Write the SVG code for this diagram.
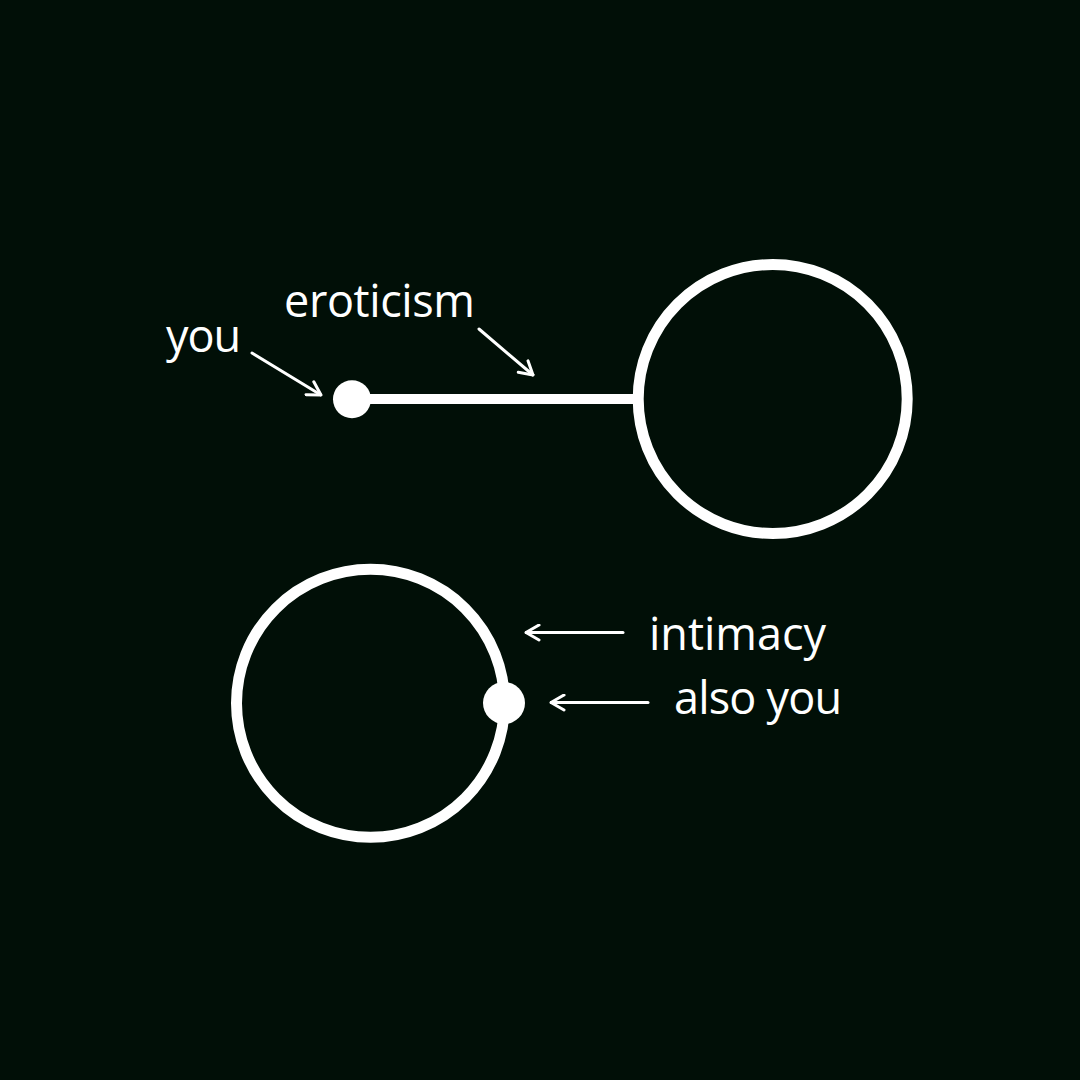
<svg xmlns="http://www.w3.org/2000/svg" width="1080" height="1080" viewBox="0 0 1080 1080">
  <defs>
    <style>
      .ring { fill: none; stroke: #ffffff; stroke-width: 11; }
      .dot { fill: #ffffff; }
      .bar { stroke: #ffffff; stroke-width: 10; }
      .arrow { stroke: #ffffff; stroke-width: 3; fill: none; stroke-linecap: round; }
      .label { font-family: "Open Sans", "Noto Sans", sans-serif; font-size: 45px; fill: #ffffff; }
    </style>
    <marker id="head" viewBox="0 0 16 18" refX="15" refY="9" markerWidth="16" markerHeight="18" markerUnits="userSpaceOnUse" orient="auto">
      <path d="M2,1.5 L15,9 L2,16.5" fill="none" stroke="#ffffff" stroke-width="3" stroke-linecap="round" stroke-linejoin="round"/>
    </marker>
  </defs>
  <rect width="1080" height="1080" fill="#010f07"/>

  <g id="connectors">
    <line class="bar" x1="352" y1="399" x2="636" y2="399"/>
    <line class="arrow" x1="252" y1="353" x2="321" y2="395" marker-end="url(#head)"/>
    <line class="arrow" x1="479" y1="329" x2="533" y2="375" marker-end="url(#head)"/>
    <line class="arrow" x1="623" y1="632.5" x2="526" y2="632.5" marker-end="url(#head)"/>
    <line class="arrow" x1="648" y1="702.5" x2="551" y2="702.5" marker-end="url(#head)"/>
  </g>

  <g id="node-top-circle">
    <circle class="ring" cx="772.7" cy="399" r="134.5"/>
  </g>
  <g id="node-you">
    <circle class="dot" cx="352" cy="399.3" r="19"/>
    <text class="label" x="166" y="352" textLength="75">you</text>
  </g>
  <g id="node-eroticism">
    <text class="label" x="284" y="317" textLength="191">eroticism</text>
  </g>
  <g id="node-bottom-circle">
    <circle class="ring" cx="370.5" cy="703.3" r="134"/>
  </g>
  <g id="node-also-you">
    <circle class="dot" cx="504" cy="703" r="21"/>
    <text class="label" x="674" y="714" textLength="168">also you</text>
  </g>
  <g id="node-intimacy">
    <text class="label" x="649" y="650" textLength="177">intimacy</text>
  </g>
</svg>
